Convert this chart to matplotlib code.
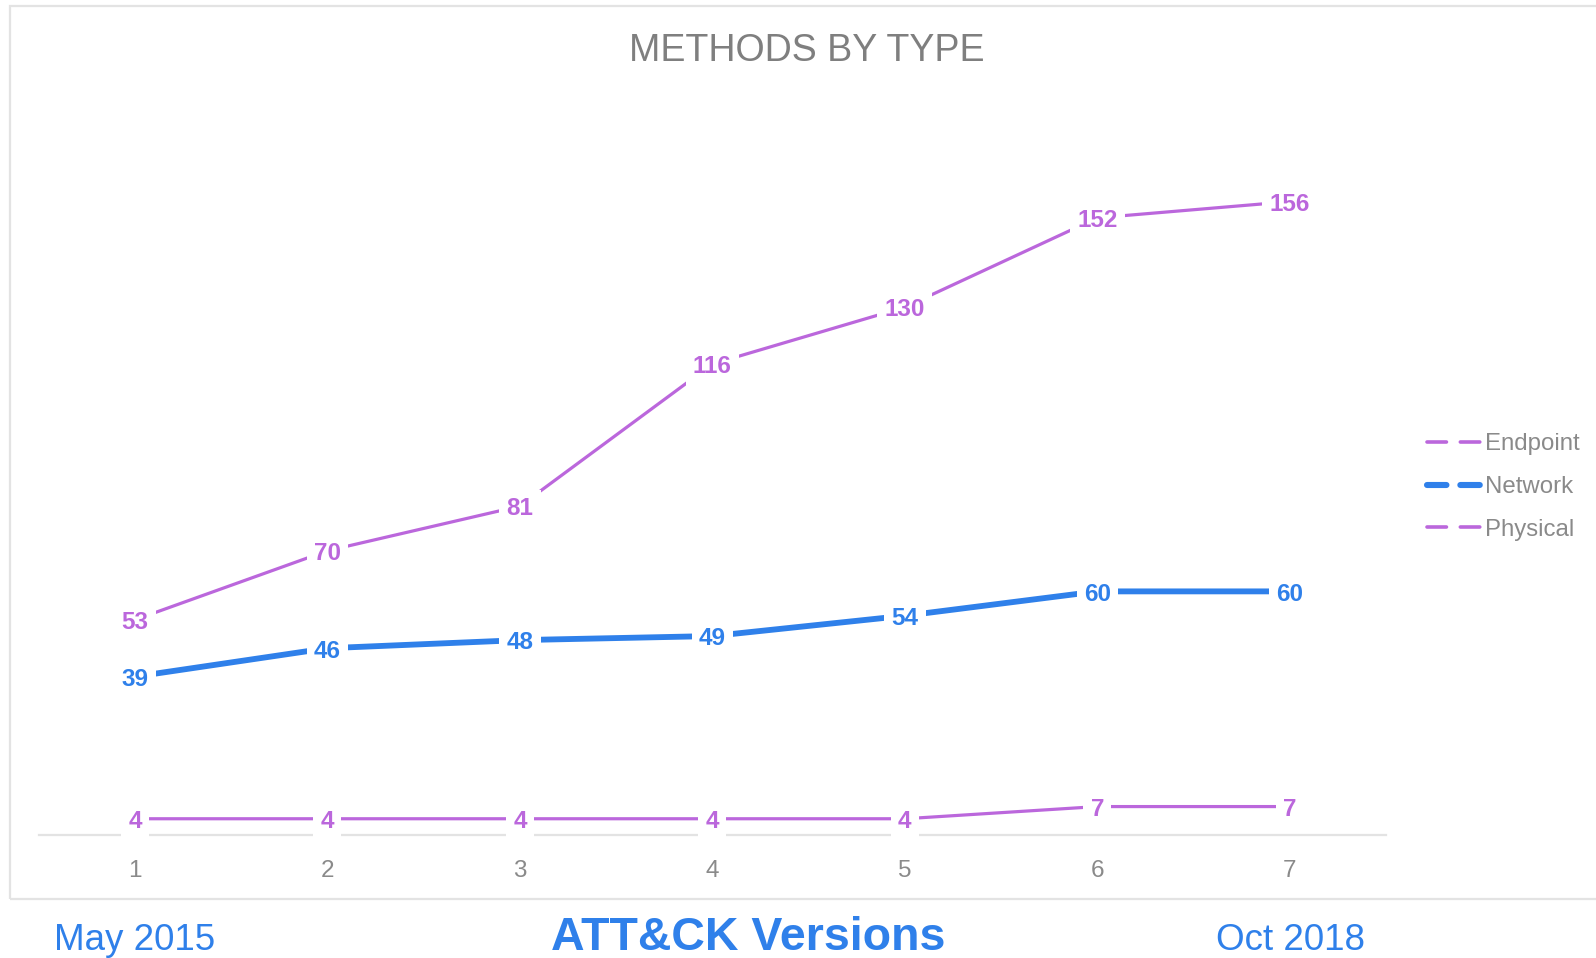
import matplotlib
matplotlib.use("Agg")
from matplotlib import pyplot as plt
from matplotlib.lines import Line2D
from matplotlib.patches import Rectangle

plt.rcParams['font.family'] = ['Liberation Sans', 'DejaVu Sans']
plt.rcParams['lines.scale_dashes'] = False

# data
VERSIONS = [1, 2, 3, 4, 5, 6, 7]
ENDPOINT = [53, 70, 81, 116, 130, 152, 156]
NETWORK = [39, 46, 48, 49, 54, 60, 60]
PHYSICAL = [4, 4, 4, 4, 4, 7, 7]

PURPLE = '#bb67dc'
BLUE = '#2f80ea'
GRAY = '#8a8a8a'
LIGHT = '#e3e3e3'

fig = plt.figure(figsize=(15.96, 9.58), dpi=100)
ax = fig.add_axes([0.02425, 0.1284, 0.8442, 0.7777])

series = [(ENDPOINT, PURPLE, 2.3), (NETWORK, BLUE, 4.2), (PHYSICAL, PURPLE, 2.3)]
for vals, col, lw in series:
    ax.plot(VERSIONS, vals, color=col, lw=lw, zorder=2, solid_capstyle='butt')
    for x, v in zip(VERSIONS, vals):
        ax.annotate(str(v), (x, v), xytext=(0, -2), textcoords='offset points',
                    color=col, fontsize=17.5, fontweight='bold',
                    ha='center', va='center', zorder=4,
                    bbox=dict(boxstyle='square,pad=0.3', fc='white', ec='none'))

ax.set_xlim(0.5, 7.5)
ax.set_ylim(0, 183.5)
for s in ['top', 'right', 'left']:
    ax.spines[s].set_visible(False)
ax.spines['bottom'].set_color(LIGHT)
ax.spines['bottom'].set_linewidth(1.6)
ax.spines['bottom'].set_zorder(1)
ax.set_yticks([])
ax.set_xticks(VERSIONS)
ax.tick_params(axis='x', length=0, pad=18, labelsize=17.5, labelcolor=GRAY)

handles = [
    Line2D([], [], color=PURPLE, lw=2.6, linestyle=(0, (14, 10)), dash_capstyle='round'),
    Line2D([], [], color=BLUE, lw=4.4, linestyle=(0, (14, 10)), dash_capstyle='round'),
    Line2D([], [], color=PURPLE, lw=2.6, linestyle=(0, (14, 10)), dash_capstyle='round'),
]
fig.legend(handles, ['Endpoint', 'Network', 'Physical'], loc='center left',
           bbox_to_anchor=(1427 / 1596, 1 - 487 / 958), frameon=False,
           fontsize=17.3, labelcolor=GRAY, handlelength=2.2, handletextpad=0.2,
           labelspacing=0.86, borderpad=0, borderaxespad=0)

fig.text(807 / 1596, 1 - 51 / 958, 'METHODS BY TYPE', ha='center', va='center',
         fontsize=27, color='#7f7f7f')

fig.add_artist(Rectangle((10 / 1596, 1 - 899 / 958), 1.0, (899 - 6) / 958,
                         transform=fig.transFigure, fill=False, ec=LIGHT, lw=1.6))

fig.text(135 / 1596, 1 - 940 / 958, 'May 2015', ha='center', va='center',
         fontsize=26.5, color=BLUE)
fig.text(748 / 1596, 1 - 938 / 958, 'ATT&CK Versions', ha='center', va='center',
         fontsize=33.5, color=BLUE, fontweight='bold')
fig.text(1290 / 1596, 1 - 940 / 958, 'Oct 2018', ha='center', va='center',
         fontsize=26.5, color=BLUE)

fig.savefig('out.png', dpi=100)
